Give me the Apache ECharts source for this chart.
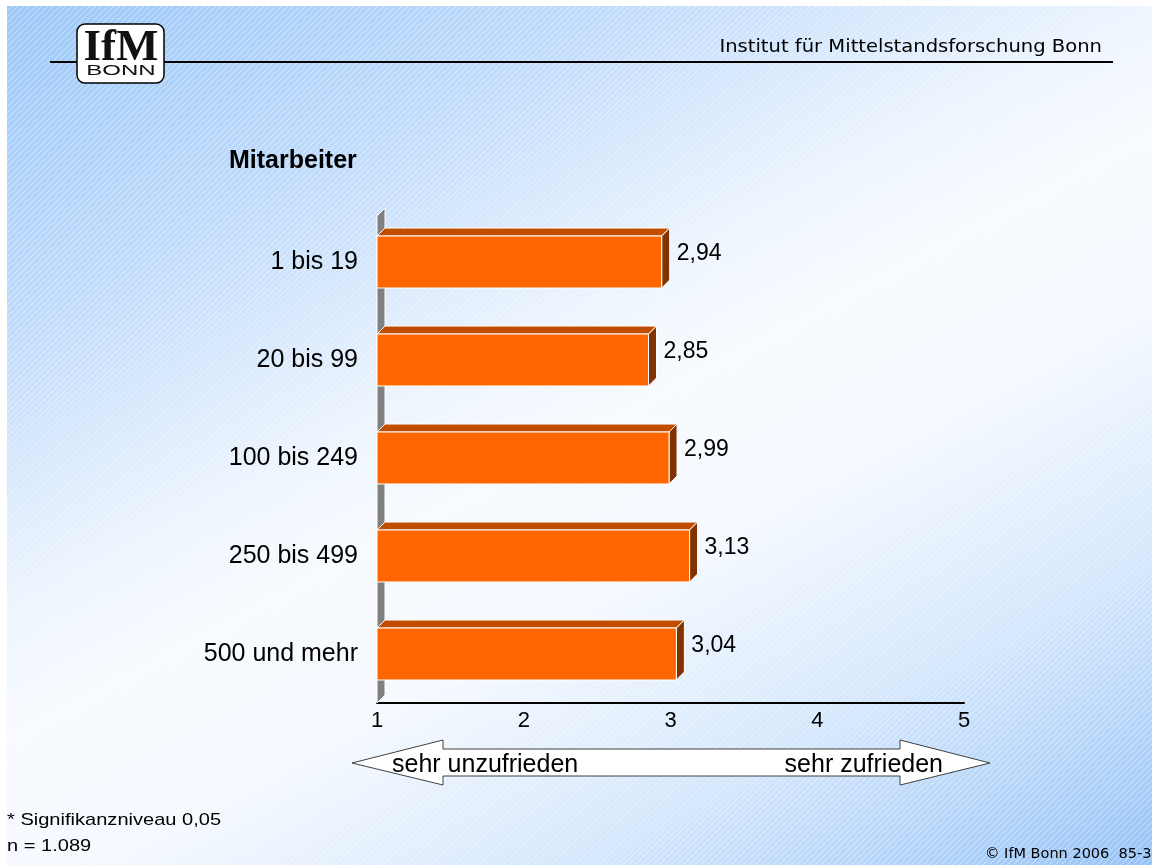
<!DOCTYPE html>
<html>
<head>
<meta charset="utf-8">
<script src="https://cdn.jsdelivr.net/npm/echarts@6/dist/echarts.min.js"></script>
<style>
  html, body { margin: 0; padding: 0; background: #fff; }
  #main { position: absolute; left: 0; top: 0; width: 1152px; height: 865px; }
</style>
</head>
<body>
<div id="main"></div>
<script>
var categories = ['1 bis 19', '20 bis 99', '100 bis 249', '250 bis 499', '500 und mehr'];
var values = [2.94, 2.85, 2.99, 3.13, 3.04];
var xTicks = [1, 2, 3, 4, 5];

var dom = document.getElementById('main');
var myChart = echarts.init(dom);
var FONT = '"Liberation Sans", Arial, sans-serif';
var depth = 8;

// feine diagonale Streifen im Hintergrund
var stripe = document.createElement('canvas');
stripe.width = 6;
stripe.height = 6;
var sctx = stripe.getContext('2d');
sctx.strokeStyle = 'rgba(255,255,255,0.45)';
sctx.lineWidth = 1;
[0, 6, 12].forEach(function (k) {
    sctx.beginPath();
    sctx.moveTo(0, k);
    sctx.lineTo(k, 0);
    sctx.stroke();
});

function fmt(v) {
    return v.toFixed(2).replace('.', ',');
}

function renderWall(params, api) {
    var top = api.coord([xTicks[0], 0]);
    var bot = api.coord([xTicks[0], categories.length - 1]);
    var half = api.size([0, 1])[1] / 2;
    var x0 = top[0], yT = top[1] - half + 3, yB = bot[1] + half;
    return {
        type: 'polygon',
        shape: { points: [[x0, yT], [x0 + depth, yT - depth], [x0 + depth, yB - depth], [x0, yB]] },
        style: { fill: '#808080', stroke: '#ffffff', lineWidth: 1 }
    };
}

function renderBar(params, api) {
    var v = api.value(0);
    var c = api.value(1);
    var start = api.coord([xTicks[0], c]);
    var end = api.coord([v, c]);
    var h = api.size([0, 1])[1] * 0.53;
    var x0 = start[0], x1 = end[0];
    var y0 = start[1] - h / 2, y1 = start[1] + h / 2;
    var d = depth;
    return {
        type: 'group',
        children: [
            {
                type: 'polygon',
                shape: { points: [[x0, y0], [x1, y0], [x1 + d, y0 - d], [x0 + d, y0 - d]] },
                style: { fill: '#C04D00', stroke: '#ffffff', lineWidth: 1 }
            },
            {
                type: 'polygon',
                shape: { points: [[x1, y0], [x1 + d, y0 - d], [x1 + d, y1 - d], [x1, y1]] },
                style: { fill: '#803300', stroke: '#ffffff', lineWidth: 1 }
            },
            {
                type: 'rect',
                shape: { x: x0, y: y0, width: x1 - x0, height: h },
                style: { fill: '#FF6600', stroke: '#ffffff', lineWidth: 1 }
            },
            {
                type: 'text',
                x: x1 + d + 7,
                y: start[1] - 8,
                style: {
                    text: fmt(v), fill: '#000', fontSize: 23, fontFamily: FONT,
                    align: 'left', verticalAlign: 'middle'
                }
            }
        ]
    };
}

var barData = values.map(function (v, i) { return [v, i]; });

function txt(x, y, text, size, opts) {
    opts = opts || {};
    return {
        type: 'text',
        x: x, y: y,
        scaleX: opts.scaleX || 1,
        z: 5,
        style: {
            text: text,
            fill: opts.color || '#000',
            fontSize: size,
            fontFamily: opts.family || FONT,
            fontWeight: opts.weight || 'normal',
            align: opts.align || 'left',
            textAlign: opts.align || 'left',
            verticalAlign: 'middle',
            textVerticalAlign: 'middle'
        }
    };
}

option = {
    animation: false,
    grid: { left: 377, right: 188, top: 213, bottom: 162 },
    xAxis: {
        type: 'value',
        min: xTicks[0],
        max: xTicks[xTicks.length - 1],
        interval: 1,
        axisLine: { show: true, lineStyle: { color: '#000', width: 2 } },
        axisTick: { show: false },
        splitLine: { show: false },
        axisLabel: { color: '#000', fontSize: 22, margin: 7, fontFamily: FONT }
    },
    yAxis: {
        type: 'category',
        data: categories,
        inverse: true,
        axisLine: { show: false },
        axisTick: { show: false },
        splitLine: { show: false },
        axisLabel: { color: '#000', fontSize: 25, margin: 19, fontFamily: FONT }
    },
    graphic: [
        {
            type: 'rect', z: -20, silent: true,
            shape: { x: 7, y: 6, width: 1145, height: 859 },
            style: {
                fill: new echarts.graphic.LinearGradient(7, 6, 611, 1146, [
                    { offset: 0, color: '#9cc8f8' },
                    { offset: 0.22, color: '#c0dbfb' },
                    { offset: 0.42, color: '#eef5fe' },
                    { offset: 0.5, color: '#f7faff' },
                    { offset: 0.62, color: '#f5f9ff' },
                    { offset: 0.8, color: '#d3e6fc' },
                    { offset: 1, color: '#98c4f6' }
                ], true)
            }
        },
        {
            type: 'rect', z: -19, silent: true,
            shape: { x: 7, y: 6, width: 1145, height: 859 },
            style: { fill: { image: stripe, repeat: 'repeat' } }
        },
        {
            type: 'line', z: 1,
            shape: { x1: 50, y1: 62, x2: 1113, y2: 62 },
            style: { stroke: '#000', lineWidth: 2 }
        },
        {
            type: 'rect', z: 2,
            shape: { x: 77, y: 24, width: 87, height: 59, r: 8 },
            style: { fill: '#fff', stroke: '#000', lineWidth: 1.5 }
        },
        txt(121, 48, 'IfM', 45, { align: 'center', weight: 'bold', family: '"Liberation Serif", "DejaVu Serif", serif', color: '#111' }),
        txt(121, 70.5, 'BONN', 15, { align: 'center', scaleX: 1.6, color: '#111' }),
        txt(1102, 48, 'Institut für Mittelstandsforschung Bonn', 17, { align: 'right', scaleX: 1.15, family: '"DejaVu Sans", Verdana, sans-serif' }),
        txt(229, 161, 'Mitarbeiter', 25, { weight: 'bold' }),
        {
            type: 'polygon', z: 3,
            shape: {
                points: [[352, 763], [443, 740], [443, 749], [900, 749], [900, 740], [990, 763],
                         [900, 785], [900, 776], [443, 776], [443, 785]]
            },
            style: { fill: '#ffffff', stroke: '#404040', lineWidth: 1 }
        },
        txt(392, 765, 'sehr unzufrieden', 25),
        txt(943, 765, 'sehr zufrieden', 25, { align: 'right' }),
        txt(7, 820, '* Signifikanzniveau 0,05', 17, { scaleX: 1.18 }),
        txt(7, 846, 'n = 1.089', 17, { scaleX: 1.18 }),
        txt(985, 854, '\u00A9 IfM Bonn 2006  85-3', 14.5, { family: '"DejaVu Sans", Verdana, sans-serif' })
    ],
    series: [
        {
            type: 'custom',
            name: 'wall',
            z: 1,
            renderItem: renderWall,
            data: [[xTicks[0], 0]],
            encode: { x: 0, y: 1 },
            silent: true
        },
        {
            type: 'custom',
            name: 'Mitarbeiter',
            z: 3,
            renderItem: renderBar,
            data: barData,
            encode: { x: 0, y: 1 }
        }
    ]
};

myChart.setOption(option, true);
</script>
</body>
</html>
